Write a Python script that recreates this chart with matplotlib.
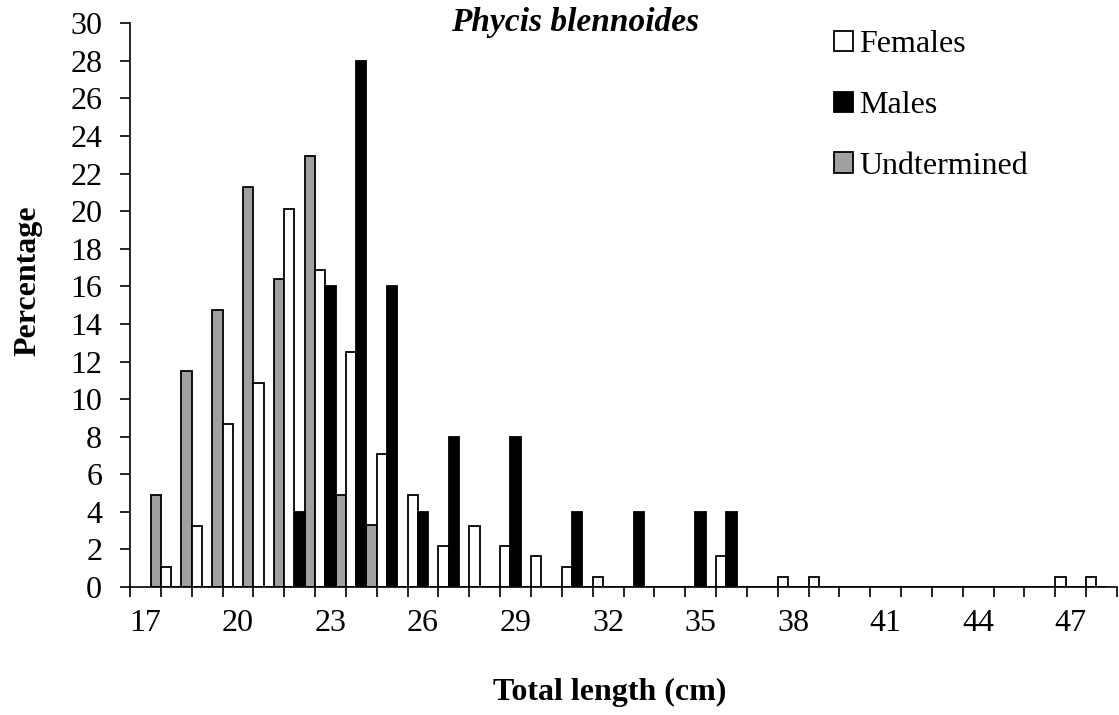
import matplotlib
matplotlib.use("Agg")
import matplotlib.pyplot as plt
import numpy as np

# ---- data (percentages by total length class, cm) ----
lengths = list(range(17, 48))
females = [1.09, 3.26, 8.70, 10.87, 20.11, 16.85, 12.50, 7.07, 4.89, 2.17,
           3.26, 2.17, 1.63, 1.09, 0.54, 0, 0, 0, 1.63, 0,
           0.54, 0.54, 0, 0, 0, 0, 0, 0, 0, 0.54, 0.54]
males = [0, 0, 0, 0, 4, 16, 28, 16, 4, 8,
         0, 8, 0, 4, 0, 4, 0, 4, 4, 0,
         0, 0, 0, 0, 0, 0, 0, 0, 0, 0, 0]
undetermined = [4.92, 11.48, 14.75, 21.31, 16.39, 22.95, 4.92, 3.28, 0, 0,
                0, 0, 0, 0, 0, 0, 0, 0, 0, 0,
                0, 0, 0, 0, 0, 0, 0, 0, 0, 0, 0]
xtick_labels = [17, 20, 23, 26, 29, 32, 35, 38, 41, 44, 47]
yticks = list(range(0, 31, 2))

plt.rcParams['font.family'] = ['Liberation Serif', 'DejaVu Serif']

W, H = 1119, 715
fig = plt.figure(figsize=(W / 100, H / 100), dpi=100)
ax = fig.add_axes([130 / W, 1 - 587 / H, (1117 - 130) / W, (587 - 23.3) / H])

x = np.array(lengths, dtype=float)
bw = 1 / 3
ec = 'black'
lw = 1.3
b_und = ax.bar(x + 1 / 3, undetermined, width=bw, color='#a0a0a0', edgecolor=ec, linewidth=lw)
b_fem = ax.bar(x + 2 / 3, females, width=bw, color='white', edgecolor=ec, linewidth=lw)
b_mal = ax.bar(x + 1.0, males, width=bw, color='black', edgecolor=ec, linewidth=lw)

ax.set_xlim(16.5, 48.5)
ax.set_ylim(0, 30)
for s in ['top', 'right']:
    ax.spines[s].set_visible(False)
for s in ['left', 'bottom']:
    ax.spines[s].set_linewidth(1.2)

ax.set_xticks(xtick_labels)
ax.set_xticklabels([str(v) for v in xtick_labels])
ax.set_xticks(np.arange(16.5, 48.6, 1.0), minor=True)
ax.tick_params(axis='x', which='major', length=0, pad=16, labelsize=23)
ax.tick_params(axis='x', which='minor', length=7, width=1.2, direction='out')
ax.set_yticks(yticks)
ax.tick_params(axis='y', which='major', length=7, width=1.2, direction='out', pad=13, labelsize=23)

fig.text(28 / W, 1 - 281 / H, 'Percentage', rotation=90, fontsize=23, fontweight='bold',
         ha='center', va='center')
fig.text(610 / W, 1 - 692 / H, 'Total length (cm)', fontsize=23, fontweight='bold',
         ha='center', va='center')
fig.text(575 / W, 1 - 23 / H, 'Phycis blennoides', fontsize=24, fontweight='bold',
         fontstyle='italic', ha='center', va='center')

leg = ax.legend([b_fem, b_mal, b_und], ['Females', 'Males', 'Undtermined'],
                loc='upper left', bbox_to_anchor=(834 / W, 1 - 30 / H),
                bbox_transform=fig.transFigure, frameon=False, fontsize=23,
                borderpad=0, borderaxespad=0, handlelength=0.6, handleheight=0.6,
                handletextpad=0.2, labelspacing=1.0)

fig.savefig('out.png', dpi=100)
